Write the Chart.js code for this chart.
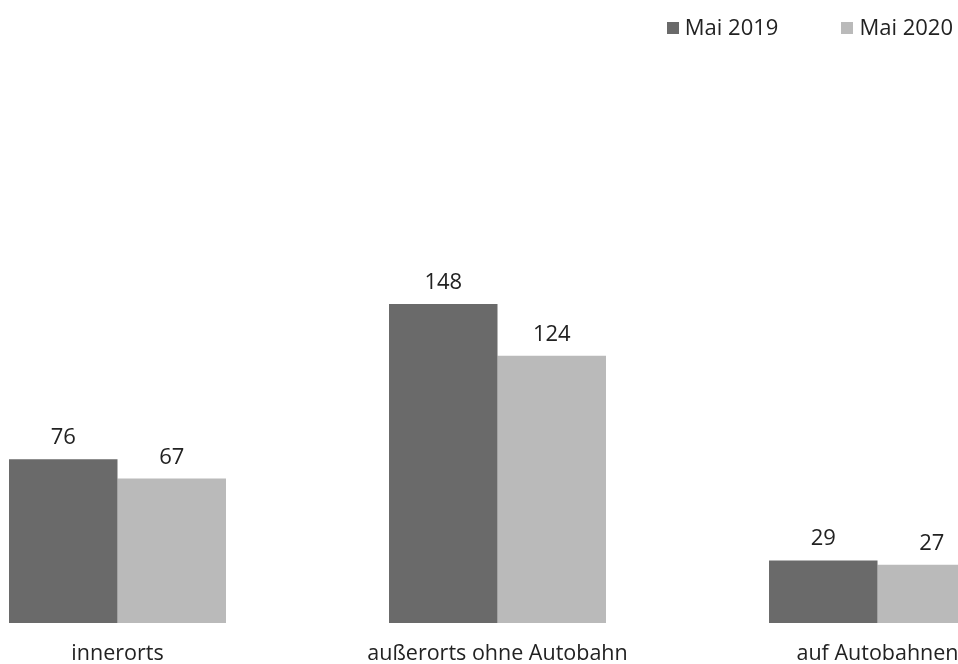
<!DOCTYPE html>
<html>
<head>
<meta charset="utf-8">
<script src="https://cdn.jsdelivr.net/npm/chart.js@4/dist/chart.umd.min.js"></script>
<style>
  html, body { margin: 0; padding: 0; background: #ffffff; overflow: hidden; }
  #wrap { position: relative; width: 958px; height: 664px; }
  #legend { position: absolute; top: 15px; right: 5px; display: flex; gap: 63px;
            font: 22px "Open Sans", sans-serif; line-height: 22px; color: #222222; }
  #legend .item { display: flex; align-items: center; white-space: nowrap; }
  #legend .sw { display: inline-block; width: 12px; height: 12px; margin-right: 6px; position: relative; top: 2px; }
</style>
</head>
<body>
<div id="wrap">
  <canvas id="c" width="958" height="664"></canvas>
  <div id="legend"></div>
</div>
<script>
// ---- data ----
const categories = ['innerorts', 'außerorts ohne Autobahn', 'auf Autobahnen'];
const seriesNames = ['Mai 2019', 'Mai 2020'];
const values2019 = [76, 148, 29];
const values2020 = [67, 124, 27];
const seriesColors = ['#6a6a6a', '#bababa'];

const FONT = '"Open Sans", sans-serif';
const TEXT = '#222222';

function toPoints(arr) { return arr.map((v, i) => ({ x: i, y: v })); }

const valueLabels = {
  id: 'valueLabels',
  afterDatasetsDraw(chart) {
    const ctx = chart.ctx;
    ctx.save();
    ctx.font = '22px ' + FONT;
    ctx.fillStyle = TEXT;
    ctx.textAlign = 'center';
    ctx.textBaseline = 'alphabetic';
    chart.data.datasets.forEach((ds, di) => {
      const meta = chart.getDatasetMeta(di);
      meta.data.forEach((bar, i) => {
        ctx.fillText(String(ds.data[i].y), bar.x, bar.y - 15);
      });
    });
    ctx.restore();
  }
};

const chart = new Chart(document.getElementById('c'), {
  type: 'bar',
  data: {
    datasets: [
      { label: seriesNames[0], data: toPoints(values2019), backgroundColor: seriesColors[0] },
      { label: seriesNames[1], data: toPoints(values2020), backgroundColor: seriesColors[1] }
    ]
  },
  options: {
    responsive: false,
    animation: false,
    layout: { padding: { top: 84, left: 0, right: 0, bottom: 0 } },
    datasets: { bar: { categoryPercentage: 0.571, barPercentage: 1.0, borderWidth: 0 } },
    plugins: { legend: { display: false }, tooltip: { enabled: false } },
    scales: {
      x: {
        type: 'linear',
        offset: false,
        min: -0.3092,
        max: 2.2118,
        grid: { display: false, drawTicks: false, offset: false },
        border: { display: false },
        afterBuildTicks(scale) { scale.ticks = categories.map((c, i) => ({ value: i })); },
        afterFit(scale) { scale.height = 41; scale.paddingLeft = 0; scale.paddingRight = 0; },
        ticks: {
          autoSkip: false,
          maxRotation: 0,
          padding: 18,
          color: TEXT,
          font: { family: FONT, size: 21.5 },
          callback: (v) => categories[v]
        }
      },
      y: {
        display: false,
        min: 0,
        max: 250
      }
    }
  },
  plugins: [valueLabels]
});

// legend (HTML) built from the datasets
const lg = document.getElementById('legend');
chart.data.datasets.forEach(ds => {
  const it = document.createElement('div');
  it.className = 'item';
  const sw = document.createElement('span');
  sw.className = 'sw';
  sw.style.background = ds.backgroundColor;
  it.appendChild(sw);
  it.appendChild(document.createTextNode(ds.label));
  lg.appendChild(it);
});
</script>
</body>
</html>
